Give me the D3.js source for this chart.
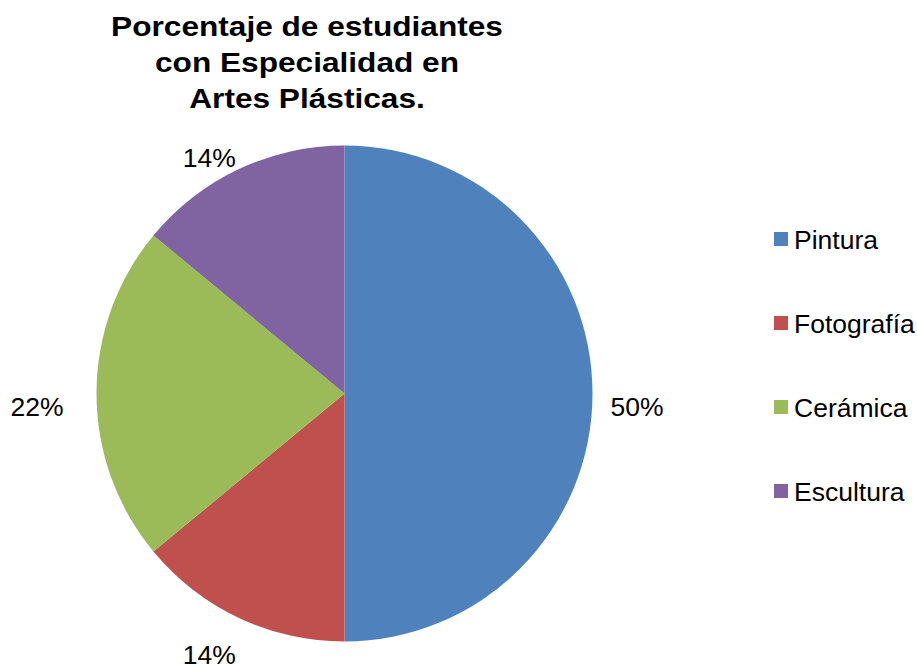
<!DOCTYPE html>
<html>
<head>
<meta charset="utf-8">
<script src="https://cdn.jsdelivr.net/npm/d3@7"></script>
<style>
  html, body { margin: 0; padding: 0; background: #fff; }
  svg { display: block; }
</style>
</head>
<body>
<svg id="chart" width="917" height="667"></svg>
<script>
const titleLines = ["Porcentaje de estudiantes", "con Especialidad en", "Artes Plásticas."];
const categories = ["Pintura", "Fotografía", "Cerámica", "Escultura"];
const values = [50, 14, 22, 14];
const colors = ["#4F81BD", "#C0504D", "#9BBB59", "#8064A2"];

const svg = d3.select("#chart");
const cx = 344.5, cy = 393.5, r = 248;
const font = "'Liberation Sans', Arial, sans-serif";

const data = categories.map((c, i) => ({ cat: c, value: values[i], color: colors[i] }));
const pie = d3.pie().value(d => d.value).sort(null);
const arcs = pie(data);
const arc = d3.arc().innerRadius(0).outerRadius(r);

const g = svg.append("g").attr("transform", `translate(${cx},${cy})`);
g.selectAll("path").data(arcs).join("path")
  .attr("d", arc)
  .attr("fill", d => d.data.color);

// data labels (outside end)
const total = d3.sum(values);
const fmt = v => Math.round(v / total * 100) + "%";
const Lx = 300, Ly = 275, offX = -7.5, offY = 13;
g.selectAll("text.lbl").data(arcs).join("text")
  .attr("class", "lbl")
  .attr("x", a => offX + Lx * Math.sin((a.startAngle + a.endAngle) / 2))
  .attr("y", a => offY - Ly * Math.cos((a.startAngle + a.endAngle) / 2))
  .attr("text-anchor", "middle")
  .attr("dominant-baseline", "central")
  .attr("font-family", font)
  .attr("font-size", 26.5)
  .attr("fill", "#000")
  .text(a => fmt(a.data.value));

// title
const t = svg.append("text")
  .attr("transform", "translate(307,0) scale(1.15,1)")
  .attr("font-family", font)
  .attr("font-size", 27.5)
  .attr("font-weight", "bold")
  .attr("text-anchor", "middle")
  .attr("fill", "#000");
titleLines.forEach((line, i) => {
  t.append("tspan").attr("x", 0).attr("y", 36 + i * 36).text(line);
});

// legend
const ly = d3.scalePoint().domain(categories).range([239, 491]);
const lg = svg.append("g");
lg.selectAll("rect").data(categories).join("rect")
  .attr("x", 774).attr("y", c => ly(c) - 7)
  .attr("width", 14).attr("height", 14)
  .attr("fill", (c, i) => colors[i]);
lg.selectAll("text").data(categories).join("text")
  .attr("x", 794).attr("y", c => ly(c) + 1)
  .attr("dominant-baseline", "central")
  .attr("font-family", font)
  .attr("font-size", 26.5)
  .attr("fill", "#000")
  .text(c => c);
</script>
</body>
</html>
